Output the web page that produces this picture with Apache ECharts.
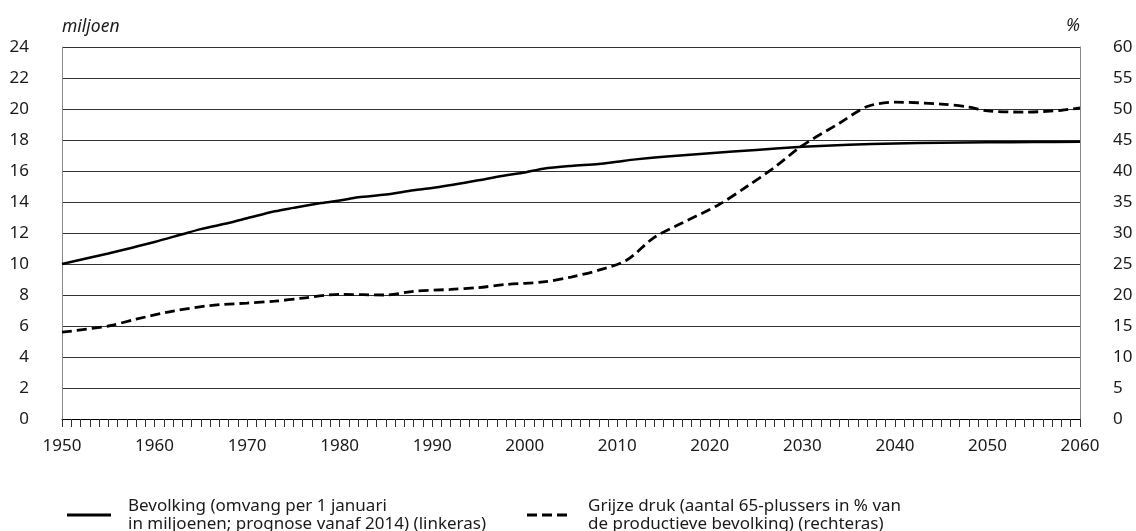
<!DOCTYPE html>
<html>
<head>
<meta charset="utf-8">
<script src="https://cdn.jsdelivr.net/npm/echarts@6/dist/echarts.min.js"></script>
<style>html,body{margin:0;padding:0;background:#fff}#c{width:1136px;height:531px}</style>
</head>
<body>
<div id="c"></div>
<script>
// Bevolking (miljoen), linkeras
var popYears = [1950,1955,1957,1960,1963,1965,1968,1970,1973,1975,1978,1980,1982,1985,1988,1990,1995,1998,2000,2002,2005,2008,2010,2012,2015,2020,2025,2030,2035,2040,2045,2050,2055,2060];
var popValues = [10.0,10.68,10.97,11.42,11.92,12.25,12.65,12.95,13.4,13.62,13.93,14.1,14.3,14.48,14.76,14.9,15.4,15.72,15.9,16.15,16.33,16.45,16.6,16.75,16.92,17.15,17.36,17.56,17.7,17.78,17.83,17.85,17.87,17.89];

// Grijze druk (%), rechteras
var greyYears = [1950,1955,1958,1962,1966,1970,1973,1976,1980,1985,1988,1992,1995,1998,2002,2005,2008,2011,2014,2017,2021,2024,2027,2030,2034,2037,2040,2045,2048,2050,2054,2058,2060];
var greyValues = [14.0,15.0,16.1,17.4,18.3,18.7,19.0,19.5,20.1,20.0,20.6,20.9,21.2,21.7,22.1,22.9,24.0,25.6,29.3,31.6,34.6,37.5,40.6,44.1,47.7,50.4,51.1,50.8,50.3,49.7,49.5,49.8,50.2];

var leftTicks = {min:0, max:24, interval:2};
var rightTicks = {min:0, max:60, interval:5};
var xTicks = {min:1950, max:2060, interval:10};

var popName = 'Bevolking (omvang per 1 januari\nin miljoenen; prognose vanaf 2014) (linkeras)';
var greyName = 'Grijze druk (aantal 65-plussers in % van\nde productieve bevolking) (rechteras)';

function pairs(xs, ys){ return xs.map(function(x,i){return [x, ys[i]];}); }

var FONT = '"Noto Sans", sans-serif';
var TXT = '#1a1a1a';

var chart = echarts.init(document.getElementById('c'), null, {renderer:'canvas'});
chart.setOption({
  animation:false,
  backgroundColor:'#fff',
  textStyle:{fontFamily:FONT},
  grid:{left:62, right:56, top:47, bottom:112, containLabel:false},
  legend:[
    {data:[{name:popName, icon:'path://M0,0h44v3h-44z'}], left:62, top:492, itemWidth:44, itemHeight:3, itemGap:0,
     textStyle:{fontFamily:FONT, fontSize:17, color:TXT, lineHeight:18, padding:[0,0,0,12]}},
    {data:[{name:greyName, icon:'path://M0,0h10v3h-10z M15,0h10v3h-10z M30,0h10v3h-10z'}], left:522, top:492, itemWidth:40, itemHeight:3, itemGap:0,
     textStyle:{fontFamily:FONT, fontSize:17, color:TXT, lineHeight:18, padding:[0,0,0,16]}}
  ],
  xAxis:{
    type:'value', min:xTicks.min, max:xTicks.max, interval:xTicks.interval,
    axisLine:{show:true, lineStyle:{color:'#000', width:1}},
    axisTick:{show:true, length:8, lineStyle:{color:'#333'}},
    minorTick:{show:true, splitNumber:10, length:8, lineStyle:{color:'#333'}},
    splitLine:{show:false},
    axisLabel:{fontFamily:FONT, fontSize:17, color:TXT, margin:19, formatter:function(v){return String(v);}}
  },
  yAxis:[
    {type:'value', position:'left', min:leftTicks.min, max:leftTicks.max, interval:leftTicks.interval,
     name:'miljoen', nameLocation:'end', nameGap:20,
     nameTextStyle:{fontFamily:FONT, fontSize:17.5, fontStyle:'italic', color:TXT, align:'left', verticalAlign:'middle'},
     axisLine:{show:true, lineStyle:{color:'#888', width:1}},
     axisTick:{show:false},
     axisLabel:{fontFamily:FONT, fontSize:17, color:TXT, margin:33, align:'right'},
     splitLine:{show:true, lineStyle:{color:'#333', width:1}}},
    {type:'value', position:'right', min:rightTicks.min, max:rightTicks.max, interval:rightTicks.interval,
     name:'%', nameLocation:'end', nameGap:21,
     nameTextStyle:{fontFamily:FONT, fontSize:17.5, fontStyle:'italic', color:TXT, align:'right', verticalAlign:'middle'},
     axisLine:{show:true, lineStyle:{color:'#888', width:1}},
     axisTick:{show:false},
     axisLabel:{fontFamily:FONT, fontSize:17, color:TXT, margin:33, align:'left'},
     splitLine:{show:false}}
  ],
  series:[
    {name:popName, type:'line', yAxisIndex:0, data:pairs(popYears, popValues),
     symbol:'none', smooth:0.3, lineStyle:{color:'#000', width:2.5}, itemStyle:{color:'#000'}, z:3},
    {name:greyName, type:'line', yAxisIndex:1, data:pairs(greyYears, greyValues),
     symbol:'none', smooth:0.3, lineStyle:{color:'#000', width:2.8, type:[10,5]}, itemStyle:{color:'#000'}, z:4}
  ]
});
</script>
</body>
</html>
